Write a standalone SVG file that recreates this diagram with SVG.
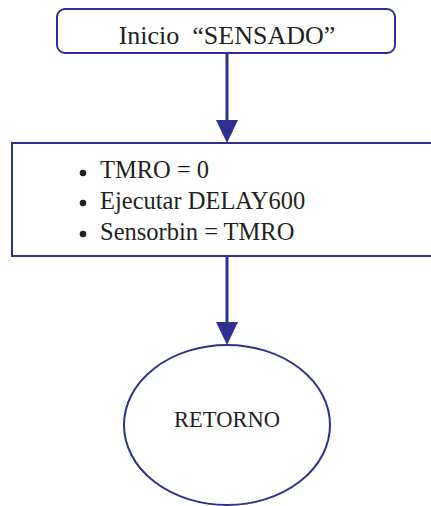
<svg xmlns="http://www.w3.org/2000/svg" width="431" height="506" viewBox="0 0 431 506">
<style>
.box{fill:#fff;stroke:#2e3192;stroke-width:2}
.ln{stroke:#2e3192;stroke-width:3;fill:none}
.ah{fill:#2e3192}
text{font-family:"Liberation Serif","Times New Roman",serif;fill:#231f20;white-space:pre}
.bl{fill:#231f20}
</style>
<g id="inicio">
<rect class="box" x="57" y="9" width="338" height="44" rx="8"/>
<text x="227" y="44" font-size="26" text-anchor="middle" xml:space="preserve">Inicio  “SENSADO”</text>
</g>
<g id="proceso">
<rect class="box" x="12" y="143" width="420" height="113"/>
<g font-size="24.5">
<circle class="bl" cx="83" cy="173" r="3.3"/>
<text x="100" y="178">TMRO = 0</text>
<circle class="bl" cx="83" cy="203" r="3.3"/>
<text x="100" y="209">Ejecutar DELAY600</text>
<circle class="bl" cx="83" cy="234" r="3.3"/>
<text x="100" y="240">Sensorbin = TMRO</text>
</g>
</g>
<g id="retorno">
<ellipse class="box" cx="227" cy="425" rx="103" ry="80"/>
<text x="227" y="427" font-size="22.5" text-anchor="middle">RETORNO</text>
</g>
<g id="connectors">
<line class="ln" x1="227" y1="53" x2="227" y2="122"/>
<polygon class="ah" points="216,120 238,120 227,143"/>
<line class="ln" x1="227" y1="256" x2="227" y2="324"/>
<polygon class="ah" points="216,322 238,322 227,345"/>
</g>
</svg>
